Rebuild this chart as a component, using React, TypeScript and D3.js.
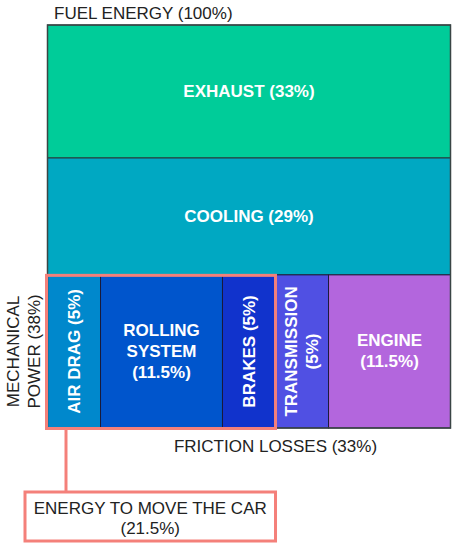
import React from "react";
import * as d3 from "d3";

// rows of the fuel energy split (top to bottom)
const rowNames = ["EXHAUST", "COOLING", "MECHANICAL"];
const rowValues = [33, 29, 38];
const rowColors = ["#00CC99", "#00A8C2", "none"];

// bottom row (mechanical power 38%) split
const partNames = ["AIR DRAG", "ROLLING SYSTEM", "BRAKES", "TRANSMISSION", "ENGINE"];
const partValues = [5, 11.5, 5, 5, 11.5];
const partColors = ["#0088CC", "#0055CC", "#1133CC", "#5050E3", "#B366DD"];
const partLines = [
  ["AIR DRAG (5%)"],
  ["ROLLING", "SYSTEM", "(11.5%)"],
  ["BRAKES (5%)"],
  ["TRANSMISSION", "(5%)"],
  ["ENGINE", "(11.5%)"],
];
const partRotated = [true, false, true, true, false];

const topLabel = "FUEL ENERGY (100%)";
const sideLabel = ["MECHANICAL", "POWER (38%)"];
const frictionLabel = "FRICTION LOSSES (33%)";
const carLabel = ["ENERGY TO MOVE THE CAR", "(21.5%)"];
const carParts = 3; // first three parts move the car

const font = "Arial, 'Liberation Sans', sans-serif";
const pink = "#F4807A";

export default function App() {
  const width = 457, height = 550;
  const left = 47.5, right = 450.5, top = 25, bottom = 428;

  const y = d3.scaleLinear().domain([0, 100]).range([top, bottom]);
  const rowStarts = d3.cumsum([0, ...rowValues]);
  const total = d3.sum(partValues);
  const x = d3.scaleLinear().domain([0, total]).range([left, right]);
  const partStarts = d3.cumsum([0, ...partValues]);

  const rowY0 = y(rowStarts[2]);
  const rowY1 = y(rowStarts[3]);
  const lh = 21;

  const carX1 = x(partStarts[carParts]);
  const frictionX0 = x(partStarts[1]);

  return (
    <svg width={width} height={height} style={{ position: "absolute", left: 0, top: 0 }} fontFamily={font}>
      <rect width={width} height={height} fill="#fff" />
      <text x={54} y={19} fontSize={17} fill="#222">{topLabel}</text>

      {rowValues.slice(0, 2).map((v, i) => {
        const y0 = y(rowStarts[i]);
        const y1 = y(rowStarts[i + 1]);
        return (
          <g key={rowNames[i]}>
            <rect x={left} y={y0} width={right - left} height={y1 - y0} fill={rowColors[i]} stroke="#2a3a3a" strokeWidth={1} />
            <text x={(left + right) / 2} y={(y0 + y1) / 2} fill="#fff" fontSize={17} fontWeight="bold"
              textAnchor="middle" dominantBaseline="central">{`${rowNames[i]} (${v}%)`}</text>
          </g>
        );
      })}

      {partValues.map((v, i) => {
        const x0 = x(partStarts[i]);
        const x1 = x(partStarts[i + 1]);
        const cx = (x0 + x1) / 2;
        const cy = (rowY0 + rowY1) / 2;
        const lines = partLines[i];
        const off = (lines.length - 1) / 2;
        return (
          <g key={partNames[i]}>
            <rect x={x0} y={rowY0} width={x1 - x0} height={rowY1 - rowY0} fill={partColors[i]} stroke="#1a1a3a" strokeWidth={1} />
            <g transform={`translate(${cx},${cy}) rotate(${partRotated[i] ? -90 : 0})`}>
              {lines.map((l, j) => (
                <text key={j} x={0} y={(j - off) * lh} fill="#fff" fontSize={17} fontWeight="bold"
                  textAnchor="middle" dominantBaseline="central">{l}</text>
              ))}
            </g>
          </g>
        );
      })}

      <rect x={left} y={top} width={right - left} height={bottom - top} fill="none" stroke="#3a4545" strokeWidth={1.5} />

      {/* side label */}
      <g transform={`translate(${23.5},${(rowY0 + rowY1) / 2}) rotate(-90)`}>
        {sideLabel.map((l, j) => (
          <text key={j} x={0} y={(j - 0.5) * lh} fontSize={17} fill="#222" textAnchor="middle" dominantBaseline="central">{l}</text>
        ))}
      </g>

      <text x={(frictionX0 + right) / 2} y={451.5} fontSize={17} fill="#222" textAnchor="middle">{frictionLabel}</text>

      {/* highlight of the parts that move the car */}
      <rect x={left - 1} y={rowY0 + 0.5} width={carX1 - left + 1} height={rowY1 - rowY0} fill="none" stroke={pink} strokeWidth={3} />
      <line x1={66} x2={66} y1={rowY1 + 1} y2={492} stroke={pink} strokeWidth={3} />
      <rect x={25} y={492} width={carX1 - 25} height={49} fill="#fff" stroke={pink} strokeWidth={3} />
      {carLabel.map((l, j) => (
        <text key={j} x={(25 + carX1) / 2} y={508 + j * 20} fontSize={17} fill="#222" textAnchor="middle" dominantBaseline="central">{l}</text>
      ))}
    </svg>
  );
}
